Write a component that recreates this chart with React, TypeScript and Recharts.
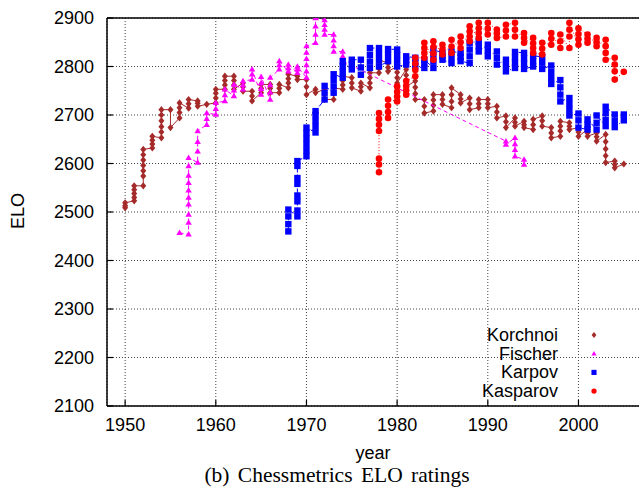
import React from 'react';
import { ScatterChart, Scatter, XAxis, YAxis, CartesianGrid, ReferenceLine, Customized } from 'recharts';

const xTicks = [1950, 1960, 1970, 1980, 1990, 2000];
const yTicks = [2100, 2200, 2300, 2400, 2500, 2600, 2700, 2800, 2900];

const korchnoiYears = [1950, 1951, 1952, 1953, 1954, 1955, 1956, 1957, 1958, 1959, 1960, 1961, 1962, 1963, 1964, 1965, 1966, 1967, 1968, 1969, 1970, 1971, 1972, 1973, 1974, 1975, 1976, 1977, 1978, 1979, 1980, 1981, 1982, 1983, 1984, 1985, 1986, 1987, 1988, 1989, 1990, 1991, 1992, 1993, 1994, 1995, 1996, 1997, 1998, 1999, 2000, 2001, 2002, 2003, 2004, 2005];
const korchnoiElo = [
  [2509, 2513, 2519], [2523, 2530, 2538, 2546, 2554], [2554, 2574, 2585, 2596, 2607, 2618, 2629], [2632, 2640, 2648, 2656],
  [2653, 2665, 2676, 2688, 2700, 2711], [2711, 2674], [2694, 2705, 2715, 2725], [2714, 2723, 2732], [2729, 2724, 2718], [2722],
  [2725, 2735, 2745, 2753], [2753, 2762, 2771, 2780], [2780, 2771, 2762, 2753], [2766, 2758, 2749], [2749, 2739, 2729],
  [2746, 2755, 2763], [2763, 2755, 2746], [2746, 2755, 2763], [2756, 2766, 2775, 2784], [2780, 2773], [2773, 2758, 2742],
  [2753, 2746], [2753, 2742, 2732], [2732, 2744, 2756], [2753, 2762, 2771, 2780], [2777, 2766, 2756], [2749, 2758, 2766],
  [2756, 2766, 2777, 2787], [2787, 2796, 2805, 2814], [2807, 2798, 2790], [2800, 2788, 2777, 2766], [2794, 2782, 2770, 2759],
  [2770, 2757, 2744, 2732], [2732, 2718, 2704], [2708, 2720, 2731, 2742], [2742, 2732, 2722], [2715, 2728, 2742, 2756],
  [2742, 2733, 2725], [2735, 2723, 2711], [2715, 2723, 2732], [2732, 2723, 2715], [2718, 2706, 2694], [2698, 2686, 2674],
  [2694, 2685, 2677], [2687, 2680, 2674], [2670, 2680, 2691], [2698, 2688, 2677], [2674, 2663, 2653], [2656, 2667, 2677, 2687],
  [2684, 2677, 2670], [2674, 2665, 2656], [2670, 2663, 2656], [2663, 2655, 2646], [2660, 2645, 2630, 2616, 2602],
  [2605, 2598, 2591], [2599],
];

const fischerYears = [1956, 1957, 1958, 1959, 1960, 1961, 1962, 1963, 1964, 1965, 1966, 1967, 1968, 1969, 1970, 1971, 1972, 1973, 1974, 1992, 1993, 1994];
const fischerElo = [
  [2457], [2454, 2478, 2495, 2516, 2530, 2545, 2560, 2575, 2595, 2612], [2602, 2625, 2645, 2667], [2680, 2692, 2704],
  [2701, 2713, 2725], [2729, 2741, 2753], [2739, 2751, 2763], [2753, 2762, 2770], [2773, 2784, 2794], [2742, 2754, 2766, 2779],
  [2732, 2747, 2762, 2777], [2794, 2803, 2811], [2790, 2797, 2804], [2787, 2794, 2800], [2777, 2790, 2803, 2816, 2829, 2842],
  [2849, 2866, 2883, 2900], [2896, 2886, 2876, 2866], [2866, 2854, 2842, 2831], [2831, 2821, 2811],
  [2646, 2639], [2653, 2640, 2628, 2615], [2608, 2598],
];

const karpovYears = [1968, 1969, 1970, 1971, 1972, 1973, 1974, 1975, 1976, 1977, 1978, 1979, 1980, 1981, 1982, 1983, 1984, 1985, 1986, 1987, 1988, 1989, 1990, 1991, 1992, 1993, 1994, 1995, 1996, 1997, 1998, 1999, 2000, 2001, 2002, 2003, 2004, 2005];
const karpovElo = [
  [2460, 2475, 2491, 2505], [2491, 2503, 2522, 2534, 2558, 2570, 2595, 2605], [2615, 2627, 2639, 2651, 2663, 2674],
  [2664, 2676, 2688, 2700, 2708], [2732, 2746, 2760], [2746, 2759, 2772, 2784], [2777, 2789, 2800, 2811], [2794, 2804, 2814],
  [2814, 2798, 2783], [2797, 2810, 2824, 2838], [2838, 2826, 2813, 2800], [2811, 2824, 2836], [2835, 2824, 2812, 2800],
  [2804, 2813, 2821], [2818, 2809, 2800], [2797, 2806, 2814], [2797, 2810, 2823, 2835], [2828, 2821, 2814], [2807, 2819, 2831],
  [2828, 2820, 2811], [2807, 2821, 2835, 2849], [2852, 2842, 2831], [2845, 2833, 2821], [2831, 2818, 2804], [2814, 2802, 2790],
  [2797, 2808, 2819, 2830], [2828, 2817, 2806, 2795], [2800, 2811, 2822], [2820, 2808, 2795], [2802, 2789, 2776, 2764],
  [2772, 2757, 2742, 2728], [2735, 2723, 2711, 2699], [2703, 2689, 2674], [2670, 2680, 2691], [2670, 2684, 2699],
  [2677, 2690, 2704, 2717], [2701, 2688, 2675], [2689, 2701],
];

const kasparovYears = [1978, 1979, 1980, 1981, 1982, 1983, 1984, 1985, 1986, 1987, 1988, 1989, 1990, 1991, 1992, 1993, 1994, 1995, 1996, 1997, 1998, 1999, 2000, 2001, 2002, 2003, 2004, 2005];
const kasparovElo = [
  [2582, 2598, 2610, 2667, 2680, 2692, 2704], [2694, 2706, 2719, 2732], [2728, 2738, 2748, 2759], [2742, 2751, 2760, 2770],
  [2780, 2793, 2806, 2818], [2818, 2828, 2838, 2849], [2814, 2827, 2840, 2852], [2825, 2835, 2845], [2828, 2841, 2855],
  [2838, 2850, 2862], [2852, 2862, 2872, 2883], [2859, 2869, 2879, 2890], [2866, 2878, 2890], [2876, 2868, 2859],
  [2862, 2874, 2886], [2890, 2876, 2862], [2869, 2859, 2849], [2859, 2848, 2838, 2828], [2825, 2837, 2849], [2845, 2857, 2869],
  [2838, 2852, 2866], [2838, 2862, 2876, 2890], [2845, 2856, 2867, 2879], [2866, 2857, 2849], [2859, 2850, 2842],
  [2855, 2842, 2828, 2814], [2818, 2804, 2790, 2773], [2789],
];

const seriesNames = ['Korchnoi', 'Fischer', 'Karpov', 'Kasparov'];
const seriesColors = ['#a52a2a', '#ff00ff', '#0000ff', '#ff0000'];

function toPoints(years: number[], elo: number[][]) {
  const pts: { year: number; elo: number }[] = [];
  years.forEach((y, i) => elo[i].forEach((v) => pts.push({ year: y, elo: v })));
  return pts;
}

const SANS = '"Liberation Sans", Arial, Helvetica, sans-serif';
const SERIF = '"Liberation Serif", "Times New Roman", serif';

function Marker({ kind, cx, cy, color, s = 1 }: any) {
  if (cx == null || cy == null) return null;
  if (kind === 0) {
    const w = 3 * s, h = 3.6 * s;
    return <path d={`M${cx},${cy - h}L${cx + w},${cy}L${cx},${cy + h}L${cx - w},${cy}Z`} fill={color} />;
  }
  if (kind === 1) {
    const w = 3.2 * s, h = 5.5 * s;
    return <path d={`M${cx},${cy - h * 0.6}L${cx + w},${cy + h * 0.4}L${cx - w},${cy + h * 0.4}Z`} fill={color} />;
  }
  if (kind === 2) {
    const w = 3.2 * s;
    return <rect x={cx - w} y={cy - w} width={2 * w} height={2 * w} fill={color} />;
  }
  return <circle cx={cx} cy={cy} r={3.3 * s} fill={color} />;
}

const XTick = (props: any) => {
  const { x, y, payload } = props;
  const ay = y - 13;
  return (
    <g>
      <line x1={x} x2={x} y1={ay} y2={ay - 6} stroke="#000" strokeWidth={1.2} />
      <text x={x} y={y + 6} textAnchor="middle" dominantBaseline="central" fontFamily={SANS} fontSize={18} fill="#000">
        {payload.value}
      </text>
    </g>
  );
};

const YTick = (props: any) => {
  const { x, y, payload } = props;
  const ax = x + 13;
  return (
    <g>
      <line x1={ax} x2={ax + 6} y1={y} y2={y} stroke="#000" strokeWidth={1.2} />
      <text x={x} y={y} textAnchor="end" dominantBaseline="central" fontFamily={SANS} fontSize={18} fill="#000">
        {payload.value}
      </text>
    </g>
  );
};

const Extras = () => (
  <g>
    <text x={373} y={453} textAnchor="middle" dominantBaseline="central" fontFamily={SANS} fontSize={18} fill="#000">year</text>
    <text x={18} y={211} textAnchor="middle" dominantBaseline="central" fontFamily={SANS} fontSize={18} fill="#000" transform="rotate(-90 18 211)">ELO</text>
    <text x={337} y={475} textAnchor="middle" dominantBaseline="central" fontFamily={SERIF} fontSize={21.5} fill="#000" wordSpacing={3}>(b) Chessmetrics ELO ratings</text>
    {seriesNames.map((n, i) => (
      <g key={n}>
        <text x={558} y={335 + i * 18.7} textAnchor="end" dominantBaseline="central" fontFamily={SANS} fontSize={18} fill="#000">{n}</text>
        <Marker kind={i} cx={594} cy={335 + i * 18.7} color={seriesColors[i]} s={0.8} />
      </g>
    ))}
  </g>
);

const dashes = [undefined, '4 3', '6 2 1 2', '1 2'];
const allData = [
  toPoints(korchnoiYears, korchnoiElo),
  toPoints(fischerYears, fischerElo),
  toPoints(karpovYears, karpovElo),
  toPoints(kasparovYears, kasparovElo),
];

export default function App() {
  return (
    <div style={{ position: 'fixed', left: 0, top: 0, width: 639, height: 487, overflow: 'hidden', background: '#fff' }}>
      <ScatterChart width={660} height={487} margin={{ top: 18, right: 9, bottom: 51, left: 0 }}>
        <CartesianGrid stroke="#444" strokeDasharray="1 2" strokeWidth={1} />
        <XAxis
          type="number"
          dataKey="year"
          domain={[1948, 2008]}
          ticks={xTicks}
          interval={0}
          tickSize={0}
          tickMargin={13}
          tickLine={false}
          height={30}
          axisLine={{ stroke: '#000', strokeWidth: 1.5 }}
          tick={<XTick />}
          allowDataOverflow
        />
        <YAxis
          type="number"
          dataKey="elo"
          domain={[2100, 2900]}
          ticks={yTicks}
          interval={0}
          tickSize={0}
          tickMargin={13}
          tickLine={false}
          width={107}
          axisLine={{ stroke: '#000', strokeWidth: 1.5 }}
          tick={<YTick />}
          allowDataOverflow
        />
        <ReferenceLine y={2900} stroke="#000" strokeWidth={1.5} />
        <ReferenceLine x={2008} stroke="#000" strokeWidth={1.5} />
        {allData.map((d, i) => (
          <Scatter
            key={seriesNames[i]}
            name={seriesNames[i]}
            data={d}
            isAnimationActive={false}
            line={{ stroke: seriesColors[i], strokeWidth: 1, strokeDasharray: dashes[i] }}
            lineType="joint"
            shape={(p: any) => <Marker kind={i} cx={p.cx} cy={p.cy} color={seriesColors[i]} />}
          />
        ))}
        <Customized component={Extras} />
      </ScatterChart>
    </div>
  );
}
